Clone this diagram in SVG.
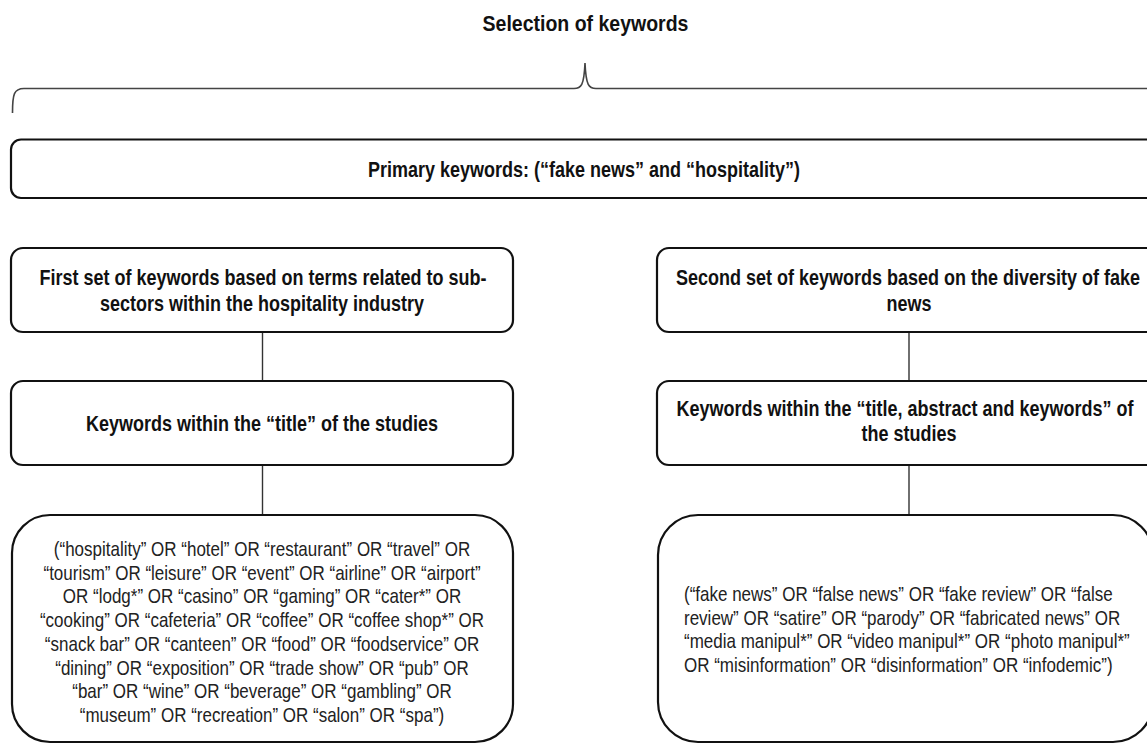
<svg xmlns="http://www.w3.org/2000/svg" width="1147" height="744" viewBox="0 0 1147 744">
<style>
.box{fill:#fff;stroke:#111;stroke-width:2.2}
.conn{stroke:#333;stroke-width:1.4;fill:none}
.brace{stroke:#444;stroke-width:1.6;fill:none}
.b{font-family:"Liberation Sans",Arial,sans-serif;font-weight:bold;font-size:18px;fill:#111;text-anchor:middle}
.r{font-family:"Liberation Sans",Arial,sans-serif;font-size:17px;fill:#222;text-anchor:middle}
.rl{font-family:"Liberation Sans",Arial,sans-serif;font-size:17px;fill:#222;text-anchor:start}
</style>
<rect width="1147" height="744" fill="#fff"/>
<g id="title">
<text class="b" style="font-size:19.5px" transform="translate(585.5,31) scale(1,1.16)">Selection of keywords</text>
</g>
<g id="brace">
<path class="brace" d="M12.5,113 C12.5,94 14,88.5 24,88.5 L574,88.5 C581,88.5 584,86 585,63 C586,86 589,88.5 596,88.5 L1147,88.5"/>
</g>
<g id="connectors">
<line class="conn" x1="262.5" y1="332" x2="262.5" y2="381"/>
<line class="conn" x1="262.5" y1="465" x2="262.5" y2="515"/>
<line class="conn" x1="909" y1="332" x2="909" y2="381"/>
<line class="conn" x1="909" y1="465" x2="909" y2="515"/>
</g>
<g id="primary">
<rect class="box" x="11" y="139.5" width="1160" height="58.5" rx="10"/>
<text class="b" transform="translate(584,177) scale(1,1.2)">Primary keywords: (“fake news” and “hospitality”)</text>
</g>
<g id="first-set">
<rect class="box" x="11" y="248" width="502" height="84" rx="12"/>
<text class="b" transform="translate(263,285) scale(1,1.2)">First set of keywords based on terms related to sub-</text>
<text class="b" transform="translate(262,310.5) scale(1,1.2)">sectors within the hospitality industry</text>
</g>
<g id="first-title">
<rect class="box" x="11" y="381" width="502" height="84" rx="12"/>
<text class="b" transform="translate(262,431) scale(1,1.2)">Keywords within the “title” of the studies</text>
</g>
<g id="first-list">
<rect class="box" x="12" y="515" width="501" height="227" rx="38"/>
<text class="r" transform="translate(262,556) scale(1,1.2)">(“hospitality” OR “hotel” OR “restaurant” OR “travel” OR</text>
<text class="r" transform="translate(262,579.7) scale(1,1.2)">“tourism” OR “leisure” OR “event” OR “airline” OR “airport”</text>
<text class="r" transform="translate(262,603.4) scale(1,1.2)">OR “lodg*” OR “casino” OR “gaming” OR “cater*” OR</text>
<text class="r" transform="translate(262,627.1) scale(1,1.2)">“cooking” OR “cafeteria” OR “coffee” OR “coffee shop*” OR</text>
<text class="r" transform="translate(262,650.8) scale(1,1.2)">“snack bar” OR “canteen” OR “food” OR “foodservice” OR</text>
<text class="r" transform="translate(262,674.5) scale(1,1.2)">“dining” OR “exposition” OR “trade show” OR “pub” OR</text>
<text class="r" transform="translate(262,698.2) scale(1,1.2)">“bar” OR “wine” OR “beverage” OR “gambling” OR</text>
<text class="r" transform="translate(262,721.9) scale(1,1.2)">“museum” OR “recreation” OR “salon” OR “spa”)</text>
</g>
<g id="second-set">
<rect class="box" x="657" y="248" width="505" height="84" rx="12"/>
<text class="b" transform="translate(908,285) scale(1,1.2)">Second set of keywords based on the diversity of fake</text>
<text class="b" transform="translate(909,310.5) scale(1,1.2)">news</text>
</g>
<g id="second-title">
<rect class="box" x="657" y="381" width="505" height="84" rx="12"/>
<text class="b" transform="translate(905,416) scale(1,1.2)">Keywords within the “title, abstract and keywords” of</text>
<text class="b" transform="translate(909,441) scale(1,1.2)">the studies</text>
</g>
<g id="second-list">
<rect class="box" x="658" y="515" width="495" height="227" rx="40"/>
<text class="rl" transform="translate(684,601) scale(1,1.2)">(“fake news” OR “false news” OR “fake review” OR “false</text>
<text class="rl" transform="translate(684,624.7) scale(1,1.2)">review” OR “satire” OR “parody” OR “fabricated news” OR</text>
<text class="rl" transform="translate(684,648.4) scale(1,1.2)">“media manipul*” OR “video manipul*” OR “photo manipul*”</text>
<text class="rl" transform="translate(684,672.1) scale(1,1.2)">OR “misinformation” OR “disinformation” OR “infodemic”)</text>
</g>
</svg>
